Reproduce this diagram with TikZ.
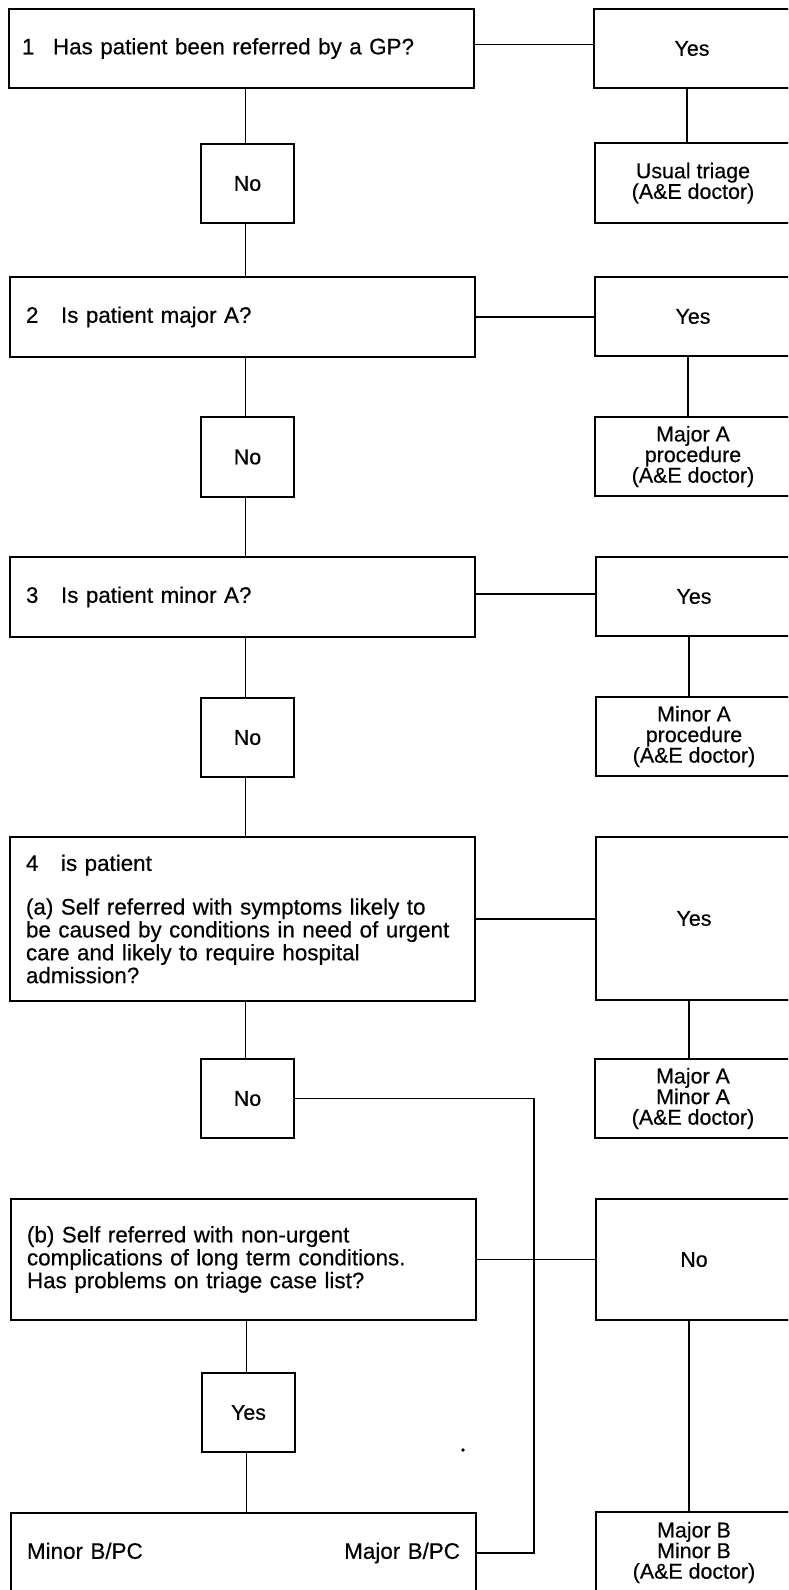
\documentclass[tikz,border=0pt]{standalone}
\usepackage{fontspec}
\setmainfont{Liberation Sans}[FakeBold=0.4]
\begin{document}
\begin{tikzpicture}[x=0.5pt,y=-0.5pt,
  every node/.style={inner sep=0pt, outer sep=0pt},
  conn/.style={line width=0.8pt},
  qbox/.style={draw, line width=0.8pt, rectangle, anchor=north west,
    text width=216.5pt, inner xsep=8pt, align=left,
    font=\fontsize{11.2pt}{10.4pt}\selectfont},
  sbox/.style={draw, line width=0.8pt, rectangle, anchor=north west,
    minimum width=46.5pt, align=center,
    font=\fontsize{10.7pt}{10.3pt}\selectfont},
  rbox/.style={draw, line width=0.8pt, rectangle, anchor=north west,
    minimum width=98pt, align=center,
    font=\fontsize{10.7pt}{10.3pt}\selectfont}]
\useasboundingbox (0,0) rectangle (788,1590);
\fill[white] (0,0) rectangle (788,1590);
\clip (0,0) rectangle (788,1590);

% left question boxes
\node[qbox, minimum height=39.5pt] (B1) at (9,9) {\hspace*{-1.5pt}\makebox[15.5pt][l]{1}Has patient been referred by a GP?};
\node[qbox, minimum height=40pt] (B2) at (10,277) {\makebox[17.5pt][l]{2}Is patient major A?};
\node[qbox, minimum height=40pt] (B3) at (10,557) {\makebox[17.5pt][l]{3}Is patient minor A?};
\node[qbox, minimum height=82pt] (B4) at (10,837) {\makebox[17.5pt][l]{4}is patient\\[10.4pt]
(a) Self referred with symptoms likely to\\
be caused by conditions in need of urgent\\
care and likely to require hospital\\
admission?};
\node[qbox, minimum height=60.5pt] (Bb) at (11,1199) {(b) Self referred with non-urgent\\
complications of long term conditions.\\
Has problems on triage case list?};
\node[qbox, minimum height=40pt] (Bbot) at (11,1513) {Minor B/PC\hfill Major B/PC\hspace*{1pt}};

% small answer boxes
\node[sbox, minimum height=39.5pt] (N1) at (201,144) {No};
\node[sbox, minimum height=40pt] (N2) at (201,417) {No};
\node[sbox, minimum height=39.5pt] (N3) at (201,698) {No};
\node[sbox, minimum height=39.5pt] (N4) at (201,1059) {No};
\node[sbox, minimum height=39.5pt] (Y5) at (202,1373) {Yes};

% right boxes
\node[rbox, minimum height=39.5pt] (Y1) at (594,9) {Yes};
\node[rbox, minimum height=40pt] (U1) at (595,143) {Usual triage\\(A\&E doctor)};
\node[rbox, minimum height=39.5pt] (Y2) at (595,277) {Yes};
\node[rbox, minimum height=39.5pt] (MA) at (595,417) {Major A\\procedure\\(A\&E doctor)};
\node[rbox, minimum height=39.5pt] (Y3) at (596,557) {Yes};
\node[rbox, minimum height=39.5pt] (MiA) at (596,697) {Minor A\\procedure\\(A\&E doctor)};
\node[rbox, minimum height=81.5pt] (Y4) at (596,837) {Yes};
\node[rbox, minimum height=39.5pt] (MAMi) at (595,1059) {Major A\\Minor A\\(A\&E doctor)};
\node[rbox, minimum height=60.5pt] (N5) at (596,1199) {No};
\node[rbox, minimum height=40.5pt] (MBMi) at (596,1512) {Major B\\Minor B\\(A\&E doctor)};

% horizontal connectors
\draw[conn] ([yshift=2pt]B1.east) -- ([yshift=2pt]B1.east -| Y1.west);
\draw[conn] (B2.east) -- (B2.east -| Y2.west);
\draw[conn] ([yshift=1.5pt]B3.east) -- ([yshift=1.5pt]B3.east -| Y3.west);
\draw[conn] (B4.east) -- (B4.east -| Y4.west);
\draw[conn] (Bb.east) -- (Bb.east -| N5.west);

% left vertical connectors
\draw[conn] ([xshift=-1pt]N1.north) -- ([xshift=-1pt]N1.north |- B1.south);
\draw[conn] ([xshift=-1pt]N1.south) -- ([xshift=-1pt]N1.south |- B2.north);
\draw[conn] ([xshift=-1pt]N2.north) -- ([xshift=-1pt]N2.north |- B2.south);
\draw[conn] ([xshift=-1pt]N2.south) -- ([xshift=-1pt]N2.south |- B3.north);
\draw[conn] ([xshift=-1pt]N3.north) -- ([xshift=-1pt]N3.north |- B3.south);
\draw[conn] ([xshift=-1pt]N3.south) -- ([xshift=-1pt]N3.south |- B4.north);
\draw[conn] ([xshift=-1pt]N4.north) -- ([xshift=-1pt]N4.north |- B4.south);
\draw[conn] ([xshift=-1pt]Y5.north) -- ([xshift=-1pt]Y5.north |- Bb.south);
\draw[conn] ([xshift=-1pt]Y5.south) -- ([xshift=-1pt]Y5.south |- Bbot.north);

% right vertical connectors
\draw[conn] ([xshift=-2.5pt]Y1.south) -- ([xshift=-2.5pt]Y1.south |- U1.north);
\draw[conn] ([xshift=-2.5pt]Y2.south) -- ([xshift=-2.5pt]Y2.south |- MA.north);
\draw[conn] ([xshift=-2.5pt]Y3.south) -- ([xshift=-2.5pt]Y3.south |- MiA.north);
\draw[conn] ([xshift=-2.5pt]Y4.south) -- ([xshift=-2.5pt]Y4.south |- MAMi.north);
\draw[conn] ([xshift=-2.5pt]N5.south) -- ([xshift=-2.5pt]N5.south |- MBMi.north);

% No (4) to Major B/PC
\coordinate (J) at (534,1553);
\draw[conn] (N4.east) -| (J) -- (J -| Bbot.east);

% stray dot
\fill (463,1450) circle (0.9pt);
\end{tikzpicture}
\end{document}
